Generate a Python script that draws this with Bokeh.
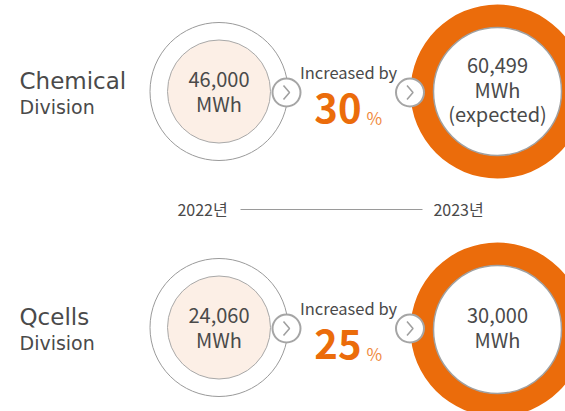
from bokeh.plotting import figure
from bokeh.models import Range1d
from bokeh.core.properties import value
from bokeh.embed import file_html
from bokeh.resources import INLINE

# ---- data ----
divisions = ["Chemical", "Qcells"]
division_sub = ["Division", "Division"]
usage_2022 = [46000, 24060]
usage_2023 = [60499, 30000]
note_2023 = ["(expected)", ""]
increase_pct = [30, 25]
years = ["2022년", "2023년"]

# ---- layout (page pixel coordinates, y grows downwards) ----
row_y = [91, 327]
ring_y = [91, 329]
x_left_circle = 218.5
x_ring = 497
x_arrow1 = 286
x_arrow2 = 409.5
x_incr = 348

ORANGE = "#EB6C0B"
ORANGE_LIGHT = "#F08A3E"
PEACH = "#FCEFE6"
GRAY = "#9a9a9a"
TEXT = "#4a4a4a"
FONT = value("Noto Sans CJK KR")
TITLE_FONT = value("DejaVu Sans")

W, H = 565, 411
p = figure(width=W, height=H, output_backend="svg", toolbar_location=None,
           x_range=Range1d(0, W), y_range=Range1d(H, 0),
           min_border=0, outline_line_color=None, background_fill_color="white")
p.axis.visible = False
p.grid.visible = False

# 2022 circles
p.circle(x=[x_left_circle] * 2, y=row_y, radius=69, fill_color="white",
         line_color=GRAY, line_width=1)
p.circle(x=[x_left_circle] * 2, y=row_y, radius=51.5, fill_color=PEACH,
         line_color="#a8a8a8", line_width=1)
p.text(x=[x_left_circle] * 2, y=[y - 12 for y in row_y],
       text=[f"{v:,}" for v in usage_2022],
       text_align="center", text_baseline="middle", text_font=FONT,
       text_font_size="20px", text_color=TEXT)
p.text(x=[x_left_circle] * 2, y=[y + 12 for y in row_y], text=["MWh", "MWh"],
       text_align="center", text_baseline="middle", text_font=FONT,
       text_font_size="20px", text_color=TEXT)

# 2023 rings
p.annulus(x=[x_ring] * 2, y=ring_y, inner_radius=64, outer_radius=87,
          fill_color=ORANGE, line_color=None)
p.circle(x=[x_ring] * 2, y=ring_y, radius=64, fill_color="white",
         line_color="#a0a0a0", line_width=1.5)

# ring texts
lines_x, lines_y, lines_t = [], [], []
for i, yc in enumerate(ring_y):
    parts = [f"{usage_2023[i]:,}", "MWh"] + ([note_2023[i]] if note_2023[i] else [])
    n = len(parts)
    for k, t in enumerate(parts):
        lines_x.append(x_ring)
        lines_y.append(yc - 2 + (k - (n - 1) / 2) * 24)
        lines_t.append(t)
p.text(x=lines_x, y=lines_y, text=lines_t, text_align="center",
       text_baseline="middle", text_font=FONT, text_font_size="20px",
       text_color=TEXT)

# arrow buttons
ax, ay = [], []
for yc in row_y:
    ax += [x_arrow1, x_arrow2]
    ay += [yc + 1, yc + 1]
p.circle(x=ax, y=ay, radius=14, fill_color="white", line_color="#a5a5a5",
         line_width=2)
p.multi_line(xs=[[x - 3, x + 3, x - 3] for x in ax],
             ys=[[y - 7, y, y + 7] for y in ay],
             line_color="#a0a0a0", line_width=1.6)

# increase labels
p.text(x=[x_incr] * 2, y=[y - 20 for y in row_y], text=["Increased by"] * 2,
       text_align="center", text_baseline="middle", text_font=FONT,
       text_font_size="16.5px", text_color=TEXT)
p.text(x=[361] * 2, y=[y + 16 for y in row_y], text=[str(v) for v in increase_pct],
       text_align="right", text_baseline="middle", text_font=FONT,
       text_font_size="40px", text_font_style="bold", text_color=ORANGE)
p.text(x=[366] * 2, y=[y + 26 for y in row_y], text=["%"] * 2,
       text_align="left", text_baseline="middle", text_font=FONT,
       text_font_size="17px", text_color=ORANGE_LIGHT)

# division titles
p.text(x=[19] * 2, y=[y - 11 for y in row_y], text=divisions,
       text_align="left", text_baseline="middle", text_font=TITLE_FONT,
       text_font_size="23px", text_color=TEXT)
p.text(x=[19] * 2, y=[y + 15 for y in row_y], text=division_sub,
       text_align="left", text_baseline="middle", text_font=TITLE_FONT,
       text_font_size="19px", text_color=TEXT)

# year axis
p.segment(x0=[240], y0=[209], x1=[422], y1=[209], line_color=GRAY, line_width=1)
p.text(x=[202, 458], y=[208, 208], text=years, text_align="center",
       text_baseline="middle", text_font=FONT, text_font_size="16px",
       text_color=TEXT)

open("out.html", "w").write(file_html(p, INLINE))
